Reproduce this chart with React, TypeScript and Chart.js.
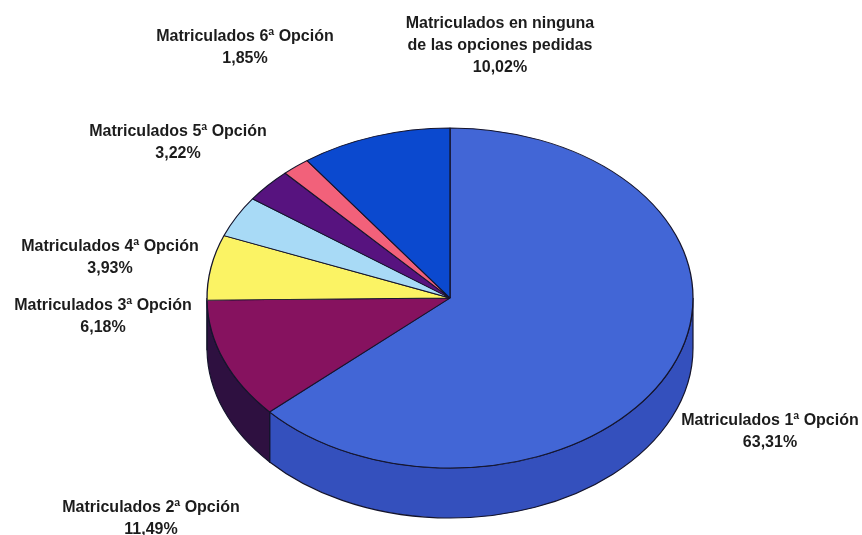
import React, { useEffect, useRef } from "react";
import { Chart, registerables } from "chart.js";

Chart.register(...registerables);

const categories = [
  "Matriculados 1ª Opción",
  "Matriculados 2ª Opción",
  "Matriculados 3ª Opción",
  "Matriculados 4ª Opción",
  "Matriculados 5ª Opción",
  "Matriculados 6ª Opción",
  "Matriculados en ninguna de las opciones pedidas",
];
const values = [63.31, 11.49, 6.18, 3.93, 3.22, 1.85, 10.02];
const valueLabels = ["63,31%", "11,49%", "6,18%", "3,93%", "3,22%", "1,85%", "10,02%"];
const topColors = ["#4266d6", "#86125f", "#fbf364", "#a8daf6", "#57137f", "#f2617a", "#0b49cf"];
const sideColors = ["#3450bd", "#2e1040", "#b0a840", "#7aa0b8", "#300a48", "#a04050", "#08308a"];

const CX = 450;
const CY = 298;
const RX = 243;
const RY = 170;
const DEPTH = 50;

const labelLayout: { x: number; y: number; lines: string[] }[] = [
  { x: 770, y: 421, lines: ["Matriculados 1ª Opción"] },
  { x: 151, y: 508, lines: ["Matriculados 2ª Opción"] },
  { x: 103, y: 306, lines: ["Matriculados 3ª Opción"] },
  { x: 110, y: 247, lines: ["Matriculados 4ª Opción"] },
  { x: 178, y: 132, lines: ["Matriculados 5ª Opción"] },
  { x: 245, y: 37, lines: ["Matriculados 6ª Opción"] },
  { x: 500, y: 24, lines: ["Matriculados en ninguna", "de las opciones pedidas"] },
];

const pie3d = {
  id: "pie3d",
  beforeDatasetsDraw(chart: any) {
    const ctx = chart.ctx;
    const arcs = chart.getDatasetMeta(0).data;
    ctx.save();
    ctx.lineWidth = 1.2;
    ctx.strokeStyle = "#14142c";
    arcs.forEach((arc: any, i: number) => {
      const s = Math.max(arc.startAngle, 0);
      const e = Math.min(arc.endAngle, Math.PI);
      if (e <= s) return;
      ctx.beginPath();
      ctx.ellipse(CX, CY, RX, RY, 0, s, e);
      ctx.ellipse(CX, CY + DEPTH, RX, RY, 0, e, s, true);
      ctx.closePath();
      ctx.fillStyle = sideColors[i];
      ctx.fill();
      ctx.stroke();
    });
    ctx.restore();
    const a = arcs[0];
    ctx.save();
    ctx.translate(CX, CY);
    ctx.scale(1, RY / RX);
    ctx.translate(-a.x, -a.y);
  },
  afterDatasetsDraw(chart: any) {
    chart.ctx.restore();
  },
  afterDraw(chart: any) {
    const ctx = chart.ctx;
    ctx.save();
    ctx.fillStyle = "#1c1c1c";
    ctx.font = 'bold 16px "Liberation Sans", Arial, sans-serif';
    ctx.textAlign = "center";
    ctx.textBaseline = "middle";
    (ctx as any).filter = "blur(0.6px)";
    labelLayout.forEach((l, i) => {
      let y = l.y;
      l.lines.forEach((t) => {
        ctx.fillText(t, l.x, y);
        y += 22;
      });
      ctx.fillText(valueLabels[i], l.x, y);
    });
    ctx.restore();
  },
};

export default function App() {
  const ref = useRef<HTMLCanvasElement>(null);
  useEffect(() => {
    document.body.style.margin = "0";
    document.body.style.background = "#ffffff";
    const chart = new Chart(ref.current!, {
      type: "pie",
      data: {
        labels: categories,
        datasets: [
          {
            data: values,
            backgroundColor: topColors,
            borderColor: "#14142c",
            borderWidth: 1.3,
            radius: RX,
            clip: false,
          } as any,
        ],
      },
      options: {
        responsive: false,
        animation: false,
        layout: { padding: 0 },
        plugins: { legend: { display: false }, tooltip: { enabled: false } },
      },
      plugins: [pie3d],
    });
    return () => chart.destroy();
  }, []);
  return <canvas ref={ref} width={862} height={535} style={{ display: "block" }} />;
}
